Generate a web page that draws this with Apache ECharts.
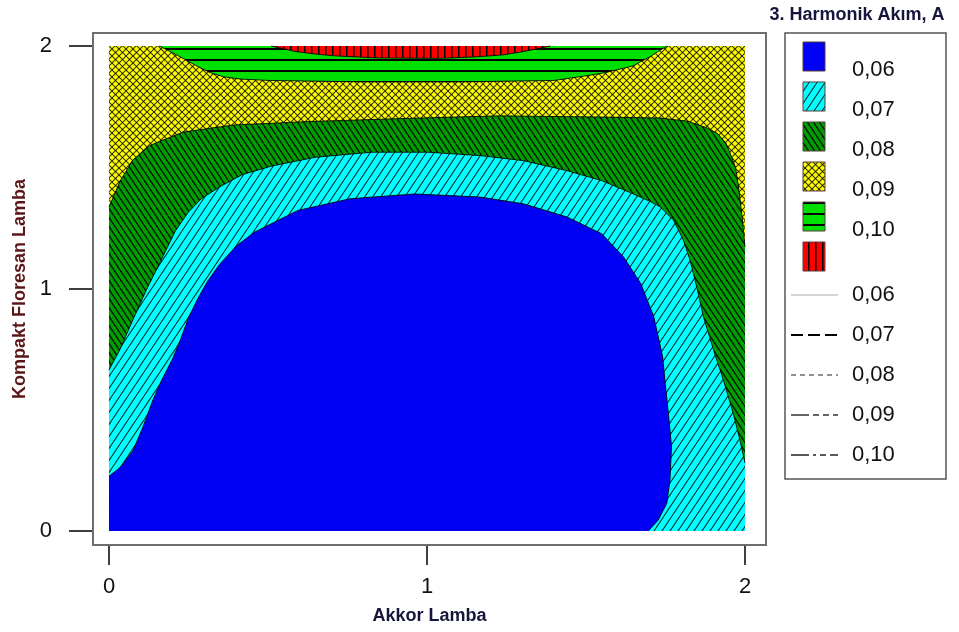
<!DOCTYPE html>
<html><head><meta charset="utf-8">
<script src="https://cdn.jsdelivr.net/npm/echarts@6/dist/echarts.min.js"></script>
<style>html,body{margin:0;padding:0;background:#fff}#c{width:959px;height:632px}</style>
</head><body><div id="c"></div>
<script>
// ---- data ----
const xTicks = [0, 1, 2];
const yTicks = [0, 1, 2];
const xName = 'Akkor Lamba';
const yName = 'Kompakt Floresan Lamba';
const legendTitle = '3. Harmonik Akım, A';
const fillLevels = ['0,06', '0,07', '0,08', '0,09', '0,10', ''];
const lineLevels = ['0,06', '0,07', '0,08', '0,09', '0,10'];
// axis extent: the frame sits a little outside the 0..2 data square
const xRange = [-0.0503, 2.066];
const yRange = [-0.0577, 2.0536];

// whole domain (0,09 band fills the background)
const domain = [[0, 0], [2, 0], [2, 2], [0, 2]];
// 0,08 / 0,09 contour (green / yellow boundary), left edge -> right edge
const contour08 = [[0,1.336],[0.035,1.443],[0.075,1.53],[0.129,1.59],[0.16,1.607],[0.233,1.645],[0.39,1.674],[0.6,1.687],[0.9,1.70],[1.23,1.712],[1.54,1.707],[1.733,1.703],[1.82,1.69],[1.875,1.665],[1.912,1.641],[1.94,1.60],[1.953,1.559],[1.97,1.5],[1.978,1.435],[1.991,1.295],[2,1.171]];
// 0,07 / 0,08 contour (cyan / green boundary)
const contour07 = [[0,0.664],[0.034,0.747],[0.075,0.87],[0.116,0.99],[0.15,1.08],[0.18,1.16],[0.21,1.24],[0.25,1.315],[0.29,1.37],[0.349,1.42],[0.42,1.47],[0.512,1.505],[0.648,1.541],[0.826,1.562],[1.003,1.562],[1.167,1.548],[1.304,1.527],[1.44,1.486],[1.549,1.445],[1.64,1.395],[1.70,1.36],[1.733,1.337],[1.775,1.282],[1.806,1.2],[1.827,1.118],[1.848,1.007],[1.87,0.88],[1.905,0.73],[1.932,0.623],[1.963,0.485],[1.984,0.375],[2,0.28]];
// 0,06 / 0,07 contour (blue / cyan boundary)
const contour06 = [[0,0.226],[0.035,0.262],[0.075,0.33],[0.107,0.43],[0.138,0.54],[0.166,0.623],[0.2,0.71],[0.225,0.79],[0.25,0.88],[0.28,0.96],[0.31,1.03],[0.348,1.1],[0.4,1.175],[0.457,1.232],[0.594,1.322],[0.758,1.37],[0.962,1.39],[1.167,1.377],[1.304,1.349],[1.44,1.295],[1.549,1.226],[1.618,1.13],[1.672,1.021],[1.713,0.884],[1.741,0.719],[1.748,0.623],[1.759,0.485],[1.769,0.348],[1.764,0.21],[1.754,0.114],[1.727,0.045],[1.696,0]];
// 0,10 contour (top bright green band)
const contour10 = [[0.158,2],[0.2,1.972],[0.238,1.945],[0.28,1.915],[0.318,1.89],[0.36,1.873],[0.411,1.864],[0.5,1.858],[0.8,1.852],[1.1,1.852],[1.4,1.858],[1.49,1.875],[1.56,1.89],[1.648,1.918],[1.7,1.955],[1.742,1.99],[1.755,2]];
// 0,11 contour (top red cap)
const contour11 = [[0.51,2],[0.545,1.99],[0.583,1.978],[0.64,1.968],[0.703,1.96],[0.836,1.951],[1.035,1.949],[1.15,1.955],[1.236,1.963],[1.29,1.974],[1.329,1.984],[1.388,2]];

// ---- styles ----
function pattern(w, h, bg, draw) {
  const c = document.createElement('canvas');
  c.width = w; c.height = h;
  const g = c.getContext('2d');
  g.fillStyle = bg; g.fillRect(0, 0, w, h);
  draw(g, w, h);
  return { image: c, repeat: 'repeat' };
}
const fillBlue = '#0000f4';
const fillCyan = pattern(8, 12, '#00ffff', (g, w, h) => {
  g.strokeStyle = 'rgba(0,0,0,0.8)'; g.lineWidth = 1.1;
  for (let k = -1; k <= 1; k++) { g.beginPath(); g.moveTo(k * w, h); g.lineTo(k * w + w, 0); g.stroke(); }
});
const fillGreen = pattern(6, 9, '#009d00', (g, w, h) => {
  g.strokeStyle = 'rgba(0,0,0,0.85)'; g.lineWidth = 1.4;
  for (let k = -1; k <= 1; k++) { g.beginPath(); g.moveTo(k * w, 0); g.lineTo(k * w + w, h); g.stroke(); }
});
const fillYellow = pattern(7, 7, '#ffff00', (g, w, h) => {
  g.strokeStyle = 'rgba(0,0,0,0.8)'; g.lineWidth = 1.1;
  for (let k = -1; k <= 1; k++) {
    g.beginPath(); g.moveTo(k * w, 0); g.lineTo(k * w + w, h); g.stroke();
    g.beginPath(); g.moveTo(k * w, h); g.lineTo(k * w + w, 0); g.stroke();
  }
});
const fillLime = pattern(4, 11, '#00e000', (g, w, h) => {
  g.fillStyle = '#000'; g.fillRect(0, 4, w, 2);
});
const fillRed = pattern(7, 4, '#ff0000', (g, w, h) => {
  g.fillStyle = '#000'; g.fillRect(3, 0, 1.5, h);
});
const legendFills = [fillBlue, fillCyan, fillGreen, fillYellow, fillLime, fillRed];

function region(name, curve, closing, fill, strokeCurve) {
  return {
    type: 'custom', name, coordinateSystem: 'cartesian2d', clip: true,
    data: curve,
    renderItem: function (params, api) {
      if (params.dataIndex !== 0) return null;
      const line = curve.map(p => api.coord(p));
      const poly = curve.concat(closing).map(p => api.coord(p));
      const children = [{ type: 'polygon', shape: { points: poly }, style: { fill: fill, stroke: null } }];
      if (strokeCurve) children.push({ type: 'polyline', shape: { points: line }, style: { fill: null, stroke: 'rgba(0,0,0,0.85)', lineWidth: 1 } });
      return { type: 'group', children };
    }
  };
}

const chart = echarts.init(document.getElementById('c'), null, { renderer: 'canvas' });

const graphics = [];
// frame
graphics.push({ type: 'rect', shape: { x: 93, y: 33, width: 673, height: 512 }, style: { fill: null, stroke: '#6e6e6e', lineWidth: 2 }, z: 10 });
// legend title
graphics.push({ type: 'text', x: 857, y: 15, style: { text: legendTitle, font: 'bold 18px "Liberation Sans", Arial', fill: '#16163c', textAlign: 'center', textVerticalAlign: 'middle' }, z: 10 });
// legend box
graphics.push({ type: 'rect', shape: { x: 785, y: 33, width: 161, height: 446 }, style: { fill: '#fff', stroke: '#555', lineWidth: 1.5 }, z: 10 });
fillLevels.forEach((lab, i) => {
  graphics.push({ type: 'rect', shape: { x: 803, y: 42 + 40 * i, width: 22, height: 29 }, style: { fill: legendFills[i], stroke: '#5a3c3c', lineWidth: 1 }, z: 11 });
  if (lab) graphics.push({ type: 'text', x: 852, y: 70 + 40 * i, style: { text: lab, font: '22px "Liberation Sans", Arial', fill: '#111', textVerticalAlign: 'middle' }, z: 11 });
});
const dashes = [null, [12, 5], [5, 4], [18, 4, 6, 4, 6, 4], [18, 4, 3, 4, 6, 4]];
const lineColors = ['#aaaaaa', '#000', '#222', '#333', '#222'];
const lineWidths = [1, 2, 1, 1.5, 1.5];
lineLevels.forEach((lab, i) => {
  const y = 295 + 40 * i;
  graphics.push({ type: 'line', shape: { x1: 791, y1: y, x2: 838, y2: y }, style: { stroke: lineColors[i], lineWidth: lineWidths[i], lineDash: dashes[i] }, z: 11 });
  graphics.push({ type: 'text', x: 852, y: y, style: { text: lab, font: '22px "Liberation Sans", Arial', fill: '#111', textVerticalAlign: 'middle' }, z: 11 });
});

chart.setOption({
  animation: false,
  backgroundColor: '#fff',
  grid: { left: 93, top: 33, width: 673, height: 512 },
  xAxis: {
    type: 'value', min: xRange[0], max: xRange[1],
    axisLine: { show: false, onZero: false },
    axisTick: { show: true, customValues: xTicks, length: 20, lineStyle: { color: '#000', width: 1.5 } },
    axisLabel: { show: true, customValues: xTicks, margin: 31, fontSize: 22, fontFamily: '"Liberation Sans", Arial', color: '#111' },
    splitLine: { show: false },
    name: xName, nameLocation: 'middle', nameGap: 62,
    nameTextStyle: { fontWeight: 'bold', fontSize: 18, fontFamily: '"Liberation Sans", Arial', color: '#16163c' }
  },
  yAxis: {
    type: 'value', min: yRange[0], max: yRange[1],
    axisLine: { show: false, onZero: false },
    axisTick: { show: true, customValues: yTicks, length: 24, lineStyle: { color: '#000', width: 1.5 } },
    axisLabel: { show: true, customValues: yTicks, margin: 41, fontSize: 22, fontFamily: '"Liberation Sans", Arial', color: '#111' },
    splitLine: { show: false },
    name: yName, nameLocation: 'middle', nameGap: 64, nameRotate: 90,
    nameTextStyle: { fontWeight: 'bold', fontSize: 18, fontFamily: '"Liberation Sans", Arial', color: '#5a1616' }
  },
  graphic: graphics,
  series: [
    region('0,09', domain, [], fillYellow, false),
    region('0,08', contour08, [[2, 0], [0, 0]], fillGreen, true),
    region('0,07', contour07, [[2, 0], [0, 0]], fillCyan, true),
    region('0,06', contour06, [[0, 0]], fillBlue, true),
    region('0,10', contour10, [], fillLime, true),
    region('0,11', contour11, [], fillRed, true)
  ]
});
</script>
</body></html>
